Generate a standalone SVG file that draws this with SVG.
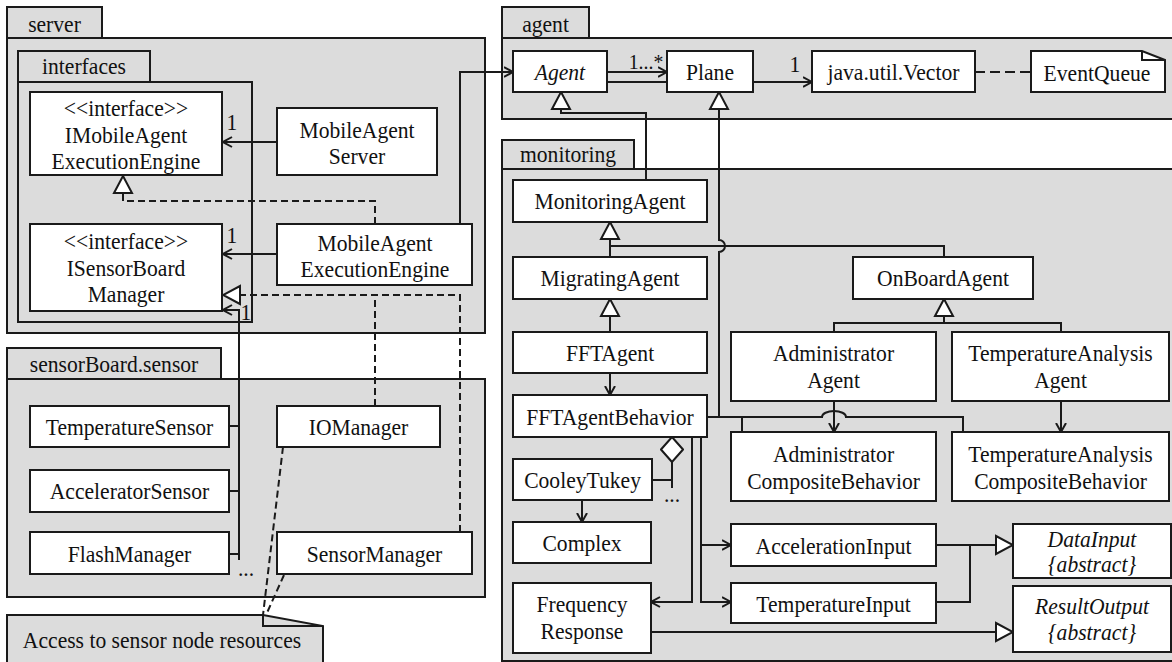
<svg xmlns="http://www.w3.org/2000/svg" width="1172" height="662" viewBox="0 0 1172 662">
<style>
.pkg{fill:#dcdcdc;stroke:#1a1a1a;stroke-width:2}
.box{fill:#fff;stroke:#1a1a1a;stroke-width:2}
.t{font-family:"Liberation Serif","Times New Roman",serif;font-size:24px;fill:#111;text-anchor:middle;transform-box:fill-box;transform-origin:center;transform:scaleX(0.9)}
.i{font-style:italic}
.sm{font-size:22px}
.c{fill:none;stroke:#1a1a1a;stroke-width:2}
.d{stroke-dasharray:7 4}
.d2{stroke-dasharray:10 5}
.a{marker-end:url(#arr)}
.g{marker-end:url(#tri)}
</style>
<defs>
<marker id="arr" markerUnits="userSpaceOnUse" viewBox="0 0 10 12" refX="9.5" refY="6" markerWidth="10" markerHeight="12" orient="auto"><path d="M0.5,1 L9.5,6 L0.5,11" fill="none" stroke="#1a1a1a" stroke-width="2"/></marker>
<marker id="tri" markerUnits="userSpaceOnUse" viewBox="0 0 19 22" refX="18" refY="11" markerWidth="19" markerHeight="22" orient="auto"><path d="M1,2 L18,11 L1,20 Z" fill="#fff" stroke="#1a1a1a" stroke-width="2"/></marker>
<marker id="dia" markerUnits="userSpaceOnUse" viewBox="0 0 27 24" refX="26" refY="12" markerWidth="27" markerHeight="24" orient="auto"><path d="M1,12 L13.5,1 L26,12 L13.5,23 Z" fill="#fff" stroke="#1a1a1a" stroke-width="2"/></marker>
</defs>

<g id="packages">
<g id="pkg-server"><rect class="pkg" x="7" y="7" width="95" height="31"/><rect class="pkg" x="7" y="38" width="478" height="295"/><text class="t" x="54.5" y="32">server</text></g>
<g id="pkg-interfaces"><rect class="pkg" x="18" y="51" width="132" height="31"/><rect class="pkg" x="18" y="82" width="234" height="240"/><text class="t" x="84" y="74">interfaces</text></g>
<g id="pkg-sensor"><rect class="pkg" x="7" y="348" width="214" height="31"/><rect class="pkg" x="7" y="379" width="478" height="218"/><text class="t" x="114" y="372">sensorBoard.sensor</text></g>
<g id="pkg-agent"><rect class="pkg" x="502" y="7" width="87" height="31"/><rect class="pkg" x="502" y="38" width="690" height="81"/><text class="t" x="545.5" y="32">agent</text></g>
<g id="pkg-monitoring"><rect class="pkg" x="502" y="140" width="132" height="29"/><rect class="pkg" x="502" y="169" width="690" height="492"/><text class="t" x="568" y="162">monitoring</text></g>
</g>

<g id="nodes">
<g id="IMobileAgentExecutionEngine"><rect class="box" x="30" y="92" width="192" height="83"/><text class="t" x="126" y="116">&lt;&lt;interface&gt;&gt;</text><text class="t" x="126" y="143">IMobileAgent</text><text class="t" x="126" y="169">ExecutionEngine</text></g>
<g id="ISensorBoardManager"><rect class="box" x="30" y="224" width="192" height="87"/><text class="t" x="126" y="249">&lt;&lt;interface&gt;&gt;</text><text class="t" x="126" y="276">ISensorBoard</text><text class="t" x="126" y="302">Manager</text></g>
<g id="MobileAgentServer"><rect class="box" x="277" y="108" width="160" height="67"/><text class="t" x="357" y="138">MobileAgent</text><text class="t" x="357" y="164">Server</text></g>
<g id="MobileAgentExecutionEngine"><rect class="box" x="277" y="224" width="195" height="61"/><text class="t" x="375" y="251">MobileAgent</text><text class="t" x="375" y="277">ExecutionEngine</text></g>
<g id="TemperatureSensor"><rect class="box" x="30" y="406" width="199" height="41"/><text class="t" x="129.5" y="435">TemperatureSensor</text></g>
<g id="AcceleratorSensor"><rect class="box" x="30" y="470" width="199" height="42"/><text class="t" x="129.5" y="499">AcceleratorSensor</text></g>
<g id="FlashManager"><rect class="box" x="30" y="532" width="199" height="42"/><text class="t" x="129.5" y="562">FlashManager</text></g>
<g id="IOManager"><rect class="box" x="277" y="406" width="163" height="41"/><text class="t" x="358.5" y="435">IOManager</text></g>
<g id="SensorManager"><rect class="box" x="277" y="532" width="195" height="42"/><text class="t" x="374.5" y="562">SensorManager</text></g>
<g id="note-access"><polygon class="pkg" points="7,615 263,615 323,626 323,672 7,672"/><polyline class="c" points="263,615 263,626 323,626"/><text class="t" x="162" y="648">Access to sensor node resources</text></g>

<g id="Agent"><rect class="box" x="513" y="51" width="94" height="41"/><text class="t i" x="560" y="80">Agent</text></g>
<g id="Plane"><rect class="box" x="667" y="51" width="86" height="41"/><text class="t" x="710" y="80">Plane</text></g>
<g id="JavaUtilVector"><rect class="box" x="812" y="51" width="163" height="41"/><text class="t" x="893.5" y="80">java.util.Vector</text></g>
<g id="EventQueue"><polygon class="box" points="1031,51 1142,51 1165,60 1165,92 1031,92"/><polyline class="c" points="1142,51 1142,60 1165,60"/><text class="t" x="1097" y="81">EventQueue</text></g>

<g id="MonitoringAgent"><rect class="box" x="513" y="180" width="194" height="42"/><text class="t" x="610" y="209">MonitoringAgent</text></g>
<g id="MigratingAgent"><rect class="box" x="513" y="257" width="194" height="42"/><text class="t" x="610" y="286">MigratingAgent</text></g>
<g id="OnBoardAgent"><rect class="box" x="853" y="257" width="180" height="42"/><text class="t" x="943" y="286">OnBoardAgent</text></g>
<g id="FFTAgent"><rect class="box" x="513" y="332" width="194" height="41"/><text class="t" x="610" y="361">FFTAgent</text></g>
<g id="AdministratorAgent"><rect class="box" x="731" y="332" width="205" height="69"/><text class="t" x="833.5" y="361">Administrator</text><text class="t" x="833.5" y="388">Agent</text></g>
<g id="TemperatureAnalysisAgent"><rect class="box" x="952" y="332" width="217" height="69"/><text class="t" x="1060.5" y="361">TemperatureAnalysis</text><text class="t" x="1060.5" y="388">Agent</text></g>
<g id="FFTAgentBehavior"><rect class="box" x="513" y="395" width="194" height="42"/><text class="t" x="610" y="425">FFTAgentBehavior</text></g>
<g id="AdministratorCompositeBehavior"><rect class="box" x="731" y="432" width="205" height="69"/><text class="t" x="833.5" y="462">Administrator</text><text class="t" x="833.5" y="489">CompositeBehavior</text></g>
<g id="TemperatureAnalysisCompositeBehavior"><rect class="box" x="952" y="432" width="217" height="69"/><text class="t" x="1060.5" y="462">TemperatureAnalysis</text><text class="t" x="1060.5" y="489">CompositeBehavior</text></g>
<g id="CooleyTukey"><rect class="box" x="513" y="459" width="139" height="41"/><text class="t" x="582.5" y="488">CooleyTukey</text></g>
<g id="Complex"><rect class="box" x="513" y="522" width="138" height="41"/><text class="t" x="582" y="551">Complex</text></g>
<g id="FrequencyResponse"><rect class="box" x="513" y="583" width="138" height="70"/><text class="t" x="582" y="612">Frequency</text><text class="t" x="582" y="639">Response</text></g>
<g id="AccelerationInput"><rect class="box" x="731" y="524" width="205" height="42"/><text class="t" x="833.5" y="554">AccelerationInput</text></g>
<g id="TemperatureInput"><rect class="box" x="731" y="583" width="205" height="40"/><text class="t" x="833.5" y="612">TemperatureInput</text></g>
<g id="DataInput"><rect class="box" x="1013" y="524" width="158" height="54"/><text class="t i" x="1092" y="547">DataInput</text><text class="t i" x="1092" y="572">{abstract}</text></g>
<g id="ResultOutput"><rect class="box" x="1013" y="586" width="158" height="66"/><text class="t i" x="1092" y="614">ResultOutput</text><text class="t i" x="1092" y="640">{abstract}</text></g>
</g>

<g id="connectors">
<path class="c a" d="M277,142 H223"/>
<text class="t" x="232" y="130">1</text>
<path class="c a" d="M277,254 H223"/>
<text class="t" x="232" y="243">1</text>
<path class="c d g" d="M375,224 V201 H123 V176"/>
<path class="c d g" d="M460,532 V295 H223"/>
<path class="c d" d="M375,406 V295"/>
<path class="c a" d="M460,224 V72 H513"/>
<path class="c a" d="M239,560 V310 H223"/>
<text class="t" x="246" y="320">1</text>
<path class="c" d="M229,426 H239 M229,491 H239 M229,554 H239"/>
<text class="t" x="246" y="576">...</text>
<path class="c d" d="M283,447 L263,615 M284,575 L266,615"/>

<path class="c a" d="M607,72 H667"/>
<path class="c" d="M607,82 H667"/>
<text class="t sm" x="646" y="69">1...*</text>
<path class="c a" d="M753,82 H812"/>
<text class="t" x="795" y="72">1</text>
<path class="c d2" d="M975,72 H1031"/>
<path class="c g" d="M646,180 V113 H561 V92"/>
<path class="c g" d="M719,417 V252 A6,6 0 0 0 719,240 V92"/>
<path class="c" d="M707,417 H822 A12,6 0 0 1 846,417 H963 V432 M742,417 V432"/>
<path class="c g" d="M610,257 V222"/>
<path class="c" d="M610,246 H944 V257"/>
<path class="c g" d="M610,332 V299"/>
<path class="c a" d="M610,373 V395"/>
<path class="c g" d="M944,323 V299"/>
<path class="c" d="M834,332 V323 H1061 V332"/>
<path class="c a" d="M834,401 V432"/>
<path class="c a" d="M1061,401 V432"/>
<path class="c" d="M672,488 V437" marker-end="url(#dia)"/>
<path class="c" d="M652,480 H672"/>
<text class="t" x="672" y="502">...</text>
<path class="c a" d="M582,500 V522"/>
<path class="c a" d="M692,437 V602 H651"/>
<path class="c a" d="M701,437 V602 H731"/>
<path class="c a" d="M701,545 H731"/>
<path class="c g" d="M936,545 H1013"/>
<path class="c" d="M936,602 H970 V545"/>
<path class="c g" d="M651,632 H1013"/>
</g>
</svg>
